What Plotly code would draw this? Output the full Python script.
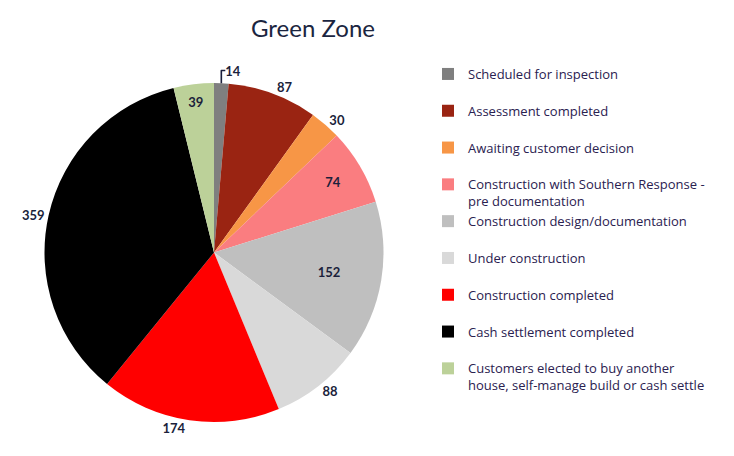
import plotly.graph_objects as go

categories = [
    "Scheduled for inspection",
    "Assessment completed",
    "Awaiting customer decision",
    "Construction with Southern Response -<br>pre documentation",
    "Construction design/documentation",
    "Under construction",
    "Construction completed",
    "Cash settlement completed",
    "Customers elected to buy another<br>house, self-manage build or cash settle",
]
values = [14, 87, 30, 74, 152, 88, 174, 359, 39]
colors = ["#7F7F7F", "#9A2412", "#F79646", "#FA7D80", "#BFBFBF",
          "#D9D9D9", "#FF0000", "#000000", "#BCD199"]
text_positions = ["outside", "outside", "outside", "inside", "inside",
                  "outside", "outside", "outside", "inside"]

# pad single-line legend entries to two lines so spacing is uniform
legend_labels = [c if "<br>" in c else c + "<br>\u00a0" for c in categories]

W, H = 734, 456
TOP = 40  # top margin in px

def py(px):
    """paper y fraction (plot area) for a pixel row measured from the top of the figure"""
    return 1 - (px - TOP) / (H - TOP)

fig = go.Figure(go.Pie(
    labels=legend_labels,
    values=values,
    sort=False,
    direction="clockwise",
    rotation=0,
    marker=dict(colors=colors, line=dict(width=0)),
    textinfo="value",
    textposition=text_positions,
    insidetextorientation="horizontal",
    textfont=dict(family="Lato", size=13, color="#1B1F3B", weight="bold"),
    domain=dict(x=[36 / W, 376 / W], y=[py(414), py(75)]),
    hoverinfo="label+value",
))

fig.update_layout(
    width=W, height=H,
    margin=dict(l=0, r=0, t=TOP, b=0),
    paper_bgcolor="white",
    plot_bgcolor="white",
    title=dict(text="Green Zone", x=305 / W, xanchor="center",
               y=1 - 21 / H, yanchor="middle",
               font=dict(family="Lato", size=24, color="#1B2540")),
    legend=dict(x=420 / W, xanchor="left", y=py(51), yanchor="top",
                valign="top",
                font=dict(family="Open Sans", size=13, color="#2A2150"),
                bgcolor="rgba(0,0,0,0)"),
    showlegend=True,
)

fig.write_html("out.html")
